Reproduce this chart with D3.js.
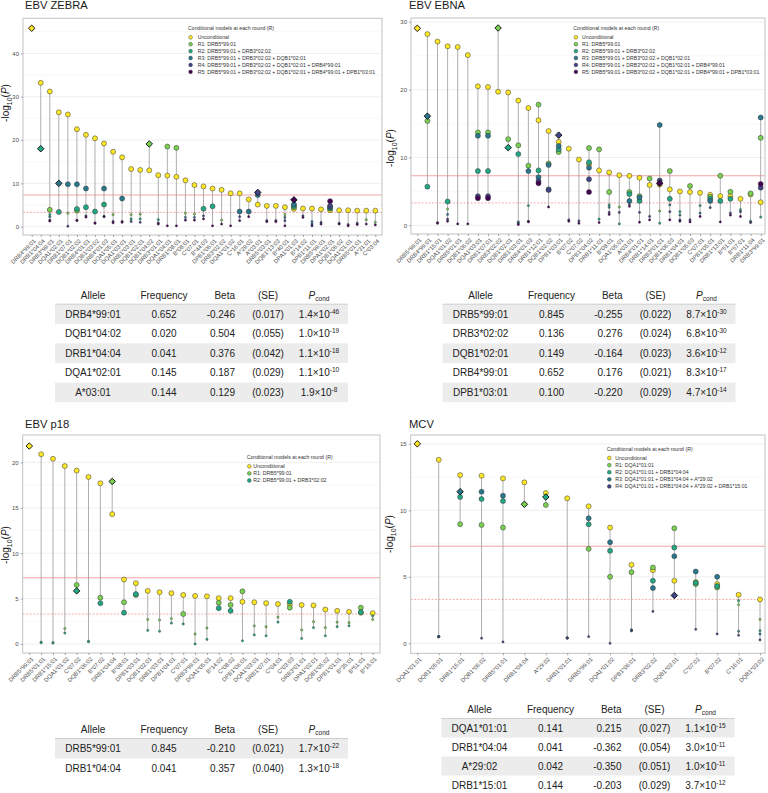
<!DOCTYPE html>
<html><head><meta charset="utf-8">
<script src="https://cdn.jsdelivr.net/npm/d3@7"></script>
<style>body{margin:0;background:#fff;} svg text{font-family:"Liberation Sans",Arial,sans-serif;}</style>
</head><body><svg id="c" width="768" height="793"></svg>
<script>
const n = null;
// ---------------- EBV ZEBRA ----------------
const zebraAlleles = ["DRB4*99:01","DRB1*04:04","DRB3*99:01","DQA1*02:01","DRB1*07:01","DQB1*02:02","DRB4*01:01","DQB1*03:02","DRB4*01:03","DQA1*05:01","DQA1*03:01","DRB1*03:01","DQB1*02:01","DQB1*04:02","DRB3*01:01","DQA1*04:01","DRB1*08:01","B*08:01","C*07:01","B*44:03","DPB1*06:01","DRB3*02:02","DQA1*01:02","C*16:01","A*29:02","A*03:01","DRB5*03:01","DQB1*13:03","B*40:01","DPA1*01:03","B*14:02","DPB1*11:01","DRB5*99:01","DPA1*02:01","DQB1*06:02","DQA1*01:01","DRB5*01:01","A*31:01","C*03:04"];
const zebraU  = [45.8,33.2,31.2,26.4,25.9,22.5,21.2,20.4,19.2,17.3,16.0,13.3,13.1,13.0,11.9,11.8,11.5,10.7,9.6,9.3,8.8,8.5,7.7,7.7,6.3,5.1,4.8,4.8,4.5,4.1,4.2,4.2,4.0,3.8,3.8,3.8,3.7,3.7,3.7];
const zebraR1 = [n,n,3.9,n,3.1,3.7,n,n,n,2.8,n,2.8,2.9,19.1,n,18.5,18.2,3.1,2.9,n,n,1.5,n,n,n,n,n,n,2.8,4.5,n,n,n,n,n,n,n,1.6,1.0];
const zebraR2 = [n,18.0,2.8,3.4,n,4.1,4.5,3.5,5.1,n,n,1.8,1.8,n,1.6,n,n,n,n,4.15,4.7,n,n,n,n,n,n,n,n,4.8,n,n,n,4.2,n,n,n,n,n];
const zebraR3 = [n,n,2.3,10.0,9.8,9.8,8.8,n,8.8,n,6.5,n,n,n,n,n,n,2.15,2.15,n,n,n,n,3.5,3.5,7.3,n,n,2.15,5.2,n,1.15,n,4.5,n,n,n,n,n];
const zebraR4 = [n,n,1.5,n,0.1,1.5,2.5,0.85,2.4,1.2,1.2,1.2,1.0,n,0.85,n,n,n,n,2.5,n,n,n,2.3,n,7.9,1.4,1.4,1.4,n,2.5,0.6,1.0,4.8,0.8,0.5,0.8,n,n];
const zebraR5 = [n,n,1.3,n,n,1.4,2.2,0.8,2.3,0.9,1.0,n,n,n,0.6,0.2,0.2,1.5,1.5,1.8,0.2,0.6,0.2,1.4,2.3,n,1.15,1.15,0.2,6.2,2.15,0.2,0.6,5.9,0.6,0.2,0.5,0.6,0.4];
const zebraLeadIdx = [0,13,1,3,25,29];
const zebraLeadRound = [0,1,2,3,4,5];
const zebraLegend = ["Unconditional","R1: DRB5*99:01","R2: DRB5*99:01 + DRB3*02:02","R3: DRB5*99:01 + DRB3*02:02 + DQB1*02:01","R4: DRB5*99:01 + DRB3*02:02 + DQB1*02:01 + DRB4*99:01","R5: DRB5*99:01 + DRB3*02:02 + DQB1*02:01 + DRB4*99:01 + DPB1*03:01"];
const zebraTicks = [0,10,20,30,40];

// ---------------- EBV EBNA ----------------
const ebnaAlleles = ["DRB5*99:01","DRB4*99:01","DRB1*15:01","DQA1*01:02","DRB5*01:01","DQB1*06:02","DQA1*03:01","DRB1*07:01","DRB3*02:02","DQB1*02:01","DRB1*03:01","DRB4*01:03","DRB1*12:01","DQB1*02:02","DPB1*03:01","B*07:02","C*07:02","DPB1*04:02","DRB1*11:01","B*08:01","DQA1*05:01","A*03:01","DRB4*01:01","DRB1*14:01","DRB3*01:01","DQB1*06:03","DRB1*04:01","DQB1*05:03","C*07:01","DPB1*05:01","DRB1*13:01","B*51:01","B*57:01","DRB1*11:04","DRB3*99:01"];
const ebnaU  = [29.05,28.2,27.1,26.4,26.3,25.1,20.5,20.4,19.7,19.6,18.4,17.3,15.5,13.9,12.3,11.3,9.7,9.0,8.1,7.8,7.4,7.3,7.0,5.95,6.0,5.3,5.0,4.9,4.8,4.5,4.3,4.3,3.9,4.55,3.4];
const ebnaR1 = [n,15.4,n,2.4,n,n,13.7,13.7,29.1,12.7,11.8,8.8,17.8,9.1,10.8,n,n,11.4,11.2,4.9,2.7,4.9,4.3,6.9,2.1,8.0,n,5.8,n,4.2,7.3,4.95,n,4.7,12.9];
const ebnaR2 = [n,5.7,n,3.5,n,n,8.0,8.0,n,11.45,10.5,2.9,8.1,5.3,11.2,n,n,9.3,0.9,3.0,0.2,4.6,3.6,n,0.3,3.9,2.0,n,2.9,3.9,3.6,3.9,2.3,0.6,1.2];
const ebnaR3 = [n,16.1,n,1.6,n,n,13.2,13.2,n,n,0.5,8.0,7.1,8.9,11.7,n,n,8.5,n,2.65,n,3.6,4.1,n,14.8,3.0,1.5,n,1.8,3.6,n,n,n,n,15.9];
const ebnaR4 = [n,n,0.4,0.9,n,n,4.3,4.3,n,n,0.3,0.6,6.5,5.2,13.3,0.8,0.65,6.8,n,1.9,1.9,3.1,1.9,1.3,6.6,2.0,0.8,0.8,n,2.6,n,1.8,2.0,n,5.55];
const ebnaR5 = [n,n,0.3,0.6,0.2,0.2,4.0,4.0,n,n,0.1,0.5,6.2,2.7,n,0.6,0.3,4.9,0.4,1.6,n,2.8,0.45,0.8,6.2,0.8,0.6,0.5,1.3,n,0.5,1.5,1.3,0.4,6.1];
const ebnaLeadIdx = [0,8,9,1,14,24];
const ebnaLeadRound = [0,1,2,3,4,5];
const ebnaLegend = zebraLegend;
const ebnaTicks = [0,10,20,30];

// ---------------- EBV p18 ----------------
const p18Alleles = ["DRB5*99:01","DRB5*01:01","DRB1*15:01","DQA1*01:02","C*07:02","DQB1*06:02","B*07:02","DRB1*04:04","B*08:01","DPB1*03:01","DQB1*02:01","DRB1*03:01","DPB1*04:01","C*07:01","DRB3*99:01","DQA1*05:01","B*14:02","C*08:02","DPB1*06:01","DQA1*03:01","DRB1*07:01","C*04:01","C*03:03","DRB3*01:01","DPA1*02:01","DQB1*05:02","DPB1*01:01","B*35:01","B*51:01","B*15:01"];
const p18U  = [21.8,20.9,20.4,19.6,19.1,18.4,17.7,14.3,7.1,6.7,5.85,5.7,5.6,5.4,5.3,5.25,5.05,5.05,4.65,4.6,4.5,4.4,4.35,4.3,4.25,3.8,3.65,3.55,3.45,3.4];
const p18R1 = [n,0.2,0.15,1.7,6.5,0.3,5.1,17.9,4.6,5.4,2.7,2.65,2.8,3.3,1.1,1.75,4.55,4.3,5.8,2.0,1.9,2.95,4.0,1.55,2.45,1.8,2.4,2.35,4.0,2.7];
const p18R2 = [n,0.15,0.1,1.2,5.85,0.25,4.5,n,3.45,5.5,1.5,1.4,2.3,2.2,0.0,0.5,3.95,3.65,0.35,1.0,0.9,2.4,4.65,0.6,1.8,0.9,1.9,2.0,3.5,3.1];
const p18LeadIdx = [0,7,4];
const p18LeadRound = [0,1,2];
const p18Legend = ["Unconditional","R1: DRB5*99:01","R2: DRB5*99:01 + DRB3*02:02"];
const p18Ticks = [0,5,10,15,20];

// ---------------- MCV ----------------
const mcvAlleles = ["DQA1*01:01","DQB1*05:01","DRB1*15:01","DQB1*06:02","DRB5*01:01","DRB1*04:04","A*29:02","DRB1*01:01","DRB5*99:01","DQA1*01:02","DPB1*06:01","DRB3*02:02","DQB1*03:01","C*07:02","B*07:02","C*16:01","DQB1*03:02"];
const mcvU  = [15.0,13.8,12.65,12.6,12.4,12.1,11.3,10.9,10.3,8.7,5.9,5.5,4.7,4.6,4.45,3.65,3.3];
const mcvR1 = [n,0.5,8.95,8.9,8.7,10.45,10.4,0.4,7.1,5.0,5.35,5.7,8.65,4.45,4.2,2.9,1.8];
const mcvR2 = [n,0.5,11.0,10.85,10.7,n,11.0,0.4,8.95,6.95,1.0,4.7,7.2,4.55,4.3,3.2,0.95];
const mcvR3 = [n,0.5,11.4,11.4,11.1,n,n,0.4,9.4,7.6,1.0,4.15,6.55,5.4,5.0,0.9,0.7];
const mcvR4 = [n,0.5,n,0.38,0.1,n,n,0.4,0.5,0.0,0.93,2.4,3.6,1.05,0.7,0.6,0.25];
const mcvLeadIdx = [0,5,6,2,12];
const mcvLeadRound = [0,1,2,3,4];
const mcvLegend = ["Unconditional","R1: DQA1*01:01","R2: DQA1*01:01 + DRB1*04:04","R3: DQA1*01:01 + DRB1*04:04 + A*29:02","R4: DQA1*01:01 + DRB1*04:04 + A*29:02 + DRB1*15:01"];
const mcvTicks = [0,5,10,15];

// ---------------- tables ----------------
const zebraTabAllele = ["DRB4*99:01","DQB1*04:02","DRB1*04:04","DQA1*02:01","A*03:01"];
const zebraTabFreq = ["0.652","0.020","0.041","0.145","0.144"];
const zebraTabBeta = ["-0.246","0.504","0.376","0.187","0.129"];
const zebraTabSE = ["(0.017)","(0.055)","(0.042)","(0.029)","(0.023)"];
const zebraTabPm = ["1.4","1.0","1.1","1.1","1.9"];
const zebraTabPe = ["-46","-19","-18","-10","-8"];

const ebnaTabAllele = ["DRB5*99:01","DRB3*02:02","DQB1*02:01","DRB4*99:01","DPB1*03:01"];
const ebnaTabFreq = ["0.845","0.136","0.149","0.652","0.100"];
const ebnaTabBeta = ["-0.255","0.276","-0.164","0.176","-0.220"];
const ebnaTabSE = ["(0.022)","(0.024)","(0.023)","(0.021)","(0.029)"];
const ebnaTabPm = ["8.7","6.8","3.6","8.3","4.7"];
const ebnaTabPe = ["-30","-30","-12","-17","-14"];

const p18TabAllele = ["DRB5*99:01","DRB1*04:04"];
const p18TabFreq = ["0.845","0.041"];
const p18TabBeta = ["-0.210","0.357"];
const p18TabSE = ["(0.021)","(0.040)"];
const p18TabPm = ["1.7","1.3"];
const p18TabPe = ["-22","-18"];

const mcvTabAllele = ["DQA1*01:01","DRB1*04:04","A*29:02","DRB1*15:01"];
const mcvTabFreq = ["0.141","0.041","0.042","0.144"];
const mcvTabBeta = ["0.215","-0.362","-0.350","-0.203"];
const mcvTabSE = ["(0.027)","(0.054)","(0.051)","(0.029)"];
const mcvTabPm = ["1.1","3.0","1.0","3.7"];
const mcvTabPe = ["-15","-11","-11","-12"];

const SOLID_THR = 7.3, DASH_THR = 3.3;
const COL = ["#FDE725","#7AD151","#22A884","#2A788E","#414487","#440154"];
const FONT = "Liberation Sans, Arial, sans-serif";
const svg = d3.select("#c");

function drawPanel(c) {
  const g = svg.append("g");
  const N = c.alleles.length;
  const x = d3.scalePoint().domain(d3.range(N)).range(c.xr);
  const y = d3.scaleLinear().domain([(c.zeroY - c.bottom) / c.ppu, (c.zeroY - c.top) / c.ppu]).range([c.bottom, c.top]);
  const step = c.ticks[1] - c.ticks[0];
  const minor = c.ticks.map(t => t + step / 2).filter(v => y(v) > c.top);
  g.selectAll(".mn").data(minor).join("line")
    .attr("x1", c.left).attr("x2", c.right).attr("y1", d => y(d)).attr("y2", d => y(d))
    .attr("stroke", "#f4f4f4").attr("stroke-width", 0.6);
  g.selectAll(".mj").data(c.ticks).join("line")
    .attr("x1", c.left).attr("x2", c.right).attr("y1", d => y(d)).attr("y2", d => y(d))
    .attr("stroke", "#ebebeb").attr("stroke-width", 0.8);
  g.append("line").attr("x1", c.left).attr("x2", c.right).attr("y1", y(SOLID_THR)).attr("y2", y(SOLID_THR))
    .attr("stroke", "#f6a5a5").attr("stroke-width", 1.1);
  g.append("line").attr("x1", c.left).attr("x2", c.right).attr("y1", y(DASH_THR)).attr("y2", y(DASH_THR))
    .attr("stroke", "#f08a8a").attr("stroke-width", 0.7).attr("stroke-dasharray", "2,1.5");
  // stems
  const stems = d3.range(N).map(i => {
    const v = c.series.map(s => s[i]).filter(d => d != null);
    return {i, lo: d3.min(v), hi: d3.max(v)};
  });
  g.selectAll(".stem").data(stems).join("line")
    .attr("x1", d => x(d.i)).attr("x2", d => x(d.i)).attr("y1", d => y(d.hi)).attr("y2", d => y(d.lo))
    .attr("stroke", "#9a9a9a").attr("stroke-width", 0.8);
  // points
  const isLead = (i, r) => c.leadIdx.some((li, k) => li === i && c.leadRound[k] === r);
  c.series.forEach((s, r) => {
    const pts = s.map((v, i) => ({v, i})).filter(d => d.v != null && !isLead(d.i, r));
    g.selectAll(".p" + r).data(pts).join("circle")
      .attr("cx", d => x(d.i)).attr("cy", d => y(d.v))
      .attr("r", d => d.v >= DASH_THR ? 2.5 : 1.15)
      .attr("fill", COL[r]).attr("stroke", "#333").attr("stroke-width", d => d.v >= DASH_THR ? 0.5 : 0.4);
  });
  // lead diamonds
  const leads = c.leadIdx.map((li, k) => ({i: li, r: c.leadRound[k], v: c.series[c.leadRound[k]][li]}));
  g.selectAll(".lead").data(leads).join("path")
    .attr("d", d3.symbol(d3.symbolSquare, 21))
    .attr("transform", d => `translate(${x(d.i)},${y(d.v)}) rotate(45)`)
    .attr("fill", d => COL[d.r]).attr("stroke", "#111").attr("stroke-width", 0.9);
  // frame
  g.append("rect").attr("x", c.left).attr("y", c.top).attr("width", c.right - c.left).attr("height", c.bottom - c.top)
    .attr("fill", "none").attr("stroke", "#c2c2c2").attr("stroke-width", 1);
  // axes
  const ya = g.append("g").attr("transform", `translate(${c.left},0)`)
    .call(d3.axisLeft(y).tickValues(c.ticks).tickSize(2).tickPadding(2));
  ya.select(".domain").remove();
  ya.selectAll("line").attr("stroke", "#555").attr("stroke-width", 0.5);
  ya.selectAll("text").attr("font-size", 6).attr("fill", "#4d4d4d").attr("font-family", FONT);
  const xa = g.append("g").attr("transform", `translate(0,${c.bottom})`)
    .call(d3.axisBottom(x).tickFormat(i => c.alleles[i]).tickSize(2));
  xa.select(".domain").remove();
  xa.selectAll("line").attr("stroke", "#555").attr("stroke-width", 0.5);
  xa.selectAll("text").attr("font-size", 5.8).attr("fill", "#4d4d4d").attr("font-family", FONT)
    .attr("x", 0).attr("y", 0).attr("dy", "0.35em").attr("text-anchor", "end")
    .attr("transform", "translate(2.5,5) rotate(-45)");
  // title
  g.append("text").attr("x", c.titleX).attr("y", c.titleY).attr("font-size", 11.2).attr("fill", "#1a1a1a").text(c.title);
  // y title
  const yt = g.append("text").attr("transform", `translate(${c.ytX},${c.ytY}) rotate(-90)`)
    .attr("text-anchor", "middle").attr("font-size", 10).attr("fill", "#1a1a1a");
  yt.append("tspan").text("-log");
  yt.append("tspan").attr("font-size", 7).attr("dy", 2.5).text("10");
  yt.append("tspan").attr("dy", -2.5).text("(");
  yt.append("tspan").attr("font-style", "italic").text("P");
  yt.append("tspan").text(")");
  // legend
  const lg = g.append("g");
  lg.append("text").attr("x", c.legX).attr("y", c.legY + 1.8).attr("font-size", 5.2).attr("fill", "#333").text("Conditional models at each round (R)");
  c.legend.forEach((t, k) => {
    const yy = c.legY + 9 + k * c.legGap;
    lg.append("circle").attr("cx", c.legX + 2.6).attr("cy", yy).attr("r", 1.9).attr("fill", COL[k]).attr("stroke", "#333").attr("stroke-width", 0.4);
    lg.append("text").attr("x", c.legX + c.legTx).attr("y", yy + 1.8).attr("font-size", 5.2).attr("fill", "#333").text(t);
  });
}

function drawTable(t) {
  const g = svg.append("g").attr("font-size", 10).attr("fill", "#222");
  const W = 293;
  const nr = t.allele.length;
  d3.range(nr).forEach(i => {
    if (i % 2 === 0) g.append("rect").attr("x", t.left).attr("y", t.row0 + i * t.rh - t.rh / 2).attr("width", W).attr("height", t.rh).attr("fill", "#ececec");
  });
  g.append("line").attr("x1", t.left).attr("x2", t.left + W).attr("y1", t.row0 - t.rh / 2).attr("y2", t.row0 - t.rh / 2).attr("stroke", "#cfcfcf").attr("stroke-width", 1);
  const hy = t.head + 3.5;
  g.append("text").attr("x", t.left + 38).attr("y", hy).attr("text-anchor", "middle").text("Allele");
  g.append("text").attr("x", t.left + 109).attr("y", hy).attr("text-anchor", "middle").text("Frequency");
  g.append("text").attr("x", t.left + 180).attr("y", hy).attr("text-anchor", "end").text("Beta");
  g.append("text").attr("x", t.left + 213).attr("y", hy).attr("text-anchor", "middle").text("(SE)");
  const ph = g.append("text").attr("x", t.left + 264).attr("y", hy).attr("text-anchor", "middle");
  ph.append("tspan").attr("font-style", "italic").text("P");
  ph.append("tspan").attr("font-size", 6.5).attr("dy", 2).text("cond");
  d3.range(nr).forEach(i => {
    const yy = t.row0 + i * t.rh + 3.5;
    g.append("text").attr("x", t.left + 38).attr("y", yy).attr("text-anchor", "middle").text(t.allele[i]);
    g.append("text").attr("x", t.left + 109).attr("y", yy).attr("text-anchor", "middle").text(t.freq[i]);
    g.append("text").attr("x", t.left + 180).attr("y", yy).attr("text-anchor", "end").text(t.beta[i]);
    g.append("text").attr("x", t.left + 213).attr("y", yy).attr("text-anchor", "middle").text(t.se[i]);
    const p = g.append("text").attr("x", t.left + 264).attr("y", yy).attr("text-anchor", "middle");
    p.append("tspan").text(t.pm[i] + "\u00d710");
    p.append("tspan").attr("font-size", 6.5).attr("dy", -4).text(t.pe[i]);
  });
}

drawPanel({title: "EBV ZEBRA", titleX: 25, titleY: 9.3, left: 23, right: 382, top: 18.3, bottom: 235,
  zeroY: 226.7, ppu: 4.333, xr: [31.7, 375.3], ticks: zebraTicks, alleles: zebraAlleles,
  series: [zebraU, zebraR1, zebraR2, zebraR3, zebraR4, zebraR5], leadIdx: zebraLeadIdx, leadRound: zebraLeadRound,
  legend: zebraLegend, legX: 188, legY: 28.3, legGap: 6.9, legTx: 9.7, ytX: 9, ytY: 103});
drawPanel({title: "EBV EBNA", titleX: 409, titleY: 9.3, left: 411, right: 765, top: 18, bottom: 234,
  zeroY: 225.3, ppu: 6.78, xr: [417.3, 760.7], ticks: ebnaTicks, alleles: ebnaAlleles,
  series: [ebnaU, ebnaR1, ebnaR2, ebnaR3, ebnaR4, ebnaR5], leadIdx: ebnaLeadIdx, leadRound: ebnaLeadRound,
  legend: ebnaLegend, legX: 573.3, legY: 28.3, legGap: 6.9, legTx: 8.7, ytX: 394, ytY: 148});
drawPanel({title: "EBV p18", titleX: 25, titleY: 428, left: 22.7, right: 380, top: 435, bottom: 653,
  zeroY: 644, ppu: 9.08, xr: [29.3, 372.7], ticks: p18Ticks, alleles: p18Alleles,
  series: [p18U, p18R1, p18R2], leadIdx: p18LeadIdx, leadRound: p18LeadRound,
  legend: p18Legend, legX: 246.7, legY: 457.3, legGap: 7.1, legTx: 6.6, ytX: 9, ytY: 545});
drawPanel({title: "MCV", titleX: 409, titleY: 428, left: 410.7, right: 765, top: 435, bottom: 653.3,
  zeroY: 643.3, ppu: 13.3, xr: [417.3, 760], ticks: mcvTicks, alleles: mcvAlleles,
  series: [mcvU, mcvR1, mcvR2, mcvR3, mcvR4], leadIdx: mcvLeadIdx, leadRound: mcvLeadRound,
  legend: mcvLegend, legX: 606.7, legY: 449, legGap: 7.1, legTx: 8.5, ytX: 393, ytY: 534});

drawTable({left: 55, head: 295, row0: 314, rh: 19.6, allele: zebraTabAllele, freq: zebraTabFreq, beta: zebraTabBeta, se: zebraTabSE, pm: zebraTabPm, pe: zebraTabPe});
drawTable({left: 442.5, head: 295, row0: 314, rh: 19.6, allele: ebnaTabAllele, freq: ebnaTabFreq, beta: ebnaTabBeta, se: ebnaTabSE, pm: ebnaTabPm, pe: ebnaTabPe});
drawTable({left: 55, head: 729, row0: 748.5, rh: 20, allele: p18TabAllele, freq: p18TabFreq, beta: p18TabBeta, se: p18TabSE, pm: p18TabPm, pe: p18TabPe});
drawTable({left: 441.5, head: 709, row0: 728, rh: 19, allele: mcvTabAllele, freq: mcvTabFreq, beta: mcvTabBeta, se: mcvTabSE, pm: mcvTabPm, pe: mcvTabPe});
</script></body></html>
